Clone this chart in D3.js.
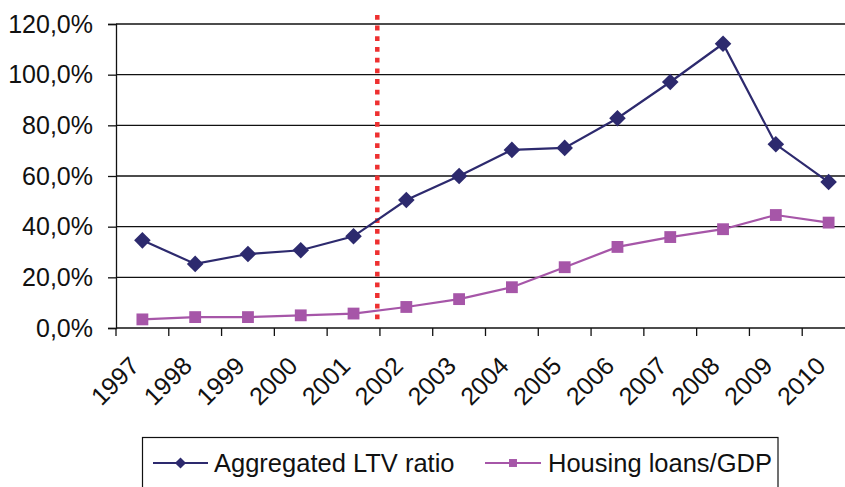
<!DOCTYPE html>
<html>
<head>
<meta charset="utf-8">
<script src="https://cdn.jsdelivr.net/npm/d3@7"></script>
<style>
  body { margin: 0; background: #fff; }
  svg { display: block; }
  text { font-family: "Liberation Sans", Arial, sans-serif; fill: #111; }
</style>
</head>
<body>
<script>
// Data
const years = ["1997","1998","1999","2000","2001","2002","2003","2004","2005","2006","2007","2008","2009","2010"];
const ltv_ratio = [34.6, 25.3, 29.2, 30.7, 36.2, 50.5, 60.0, 70.3, 71.1, 82.8, 97.1, 112.2, 72.5, 57.6];
const housing_loans_gdp = [3.4, 4.3, 4.3, 5.0, 5.7, 8.3, 11.4, 16.1, 24.0, 32.0, 35.9, 39.0, 44.6, 41.6];
const y_ticks = [0, 20, 40, 60, 80, 100, 120];
const marker_year = "2002";   // red dotted line sits just before this year

const width = 845, height = 487;
const margin = {left: 116, top: 24, bottom: 159};
const plot_right = 855;

const navy = "#2d2a6e";
const purple = "#a656a8";
const red = "#ee3030";

const svg = d3.select("body").append("svg")
  .attr("width", width)
  .attr("height", height);

// Scales
const x = d3.scaleBand()
  .domain(years)
  .range([margin.left, plot_right]);

const y = d3.scaleLinear()
  .domain([0, 120])
  .range([height - margin.bottom, margin.top]);

const fmt = v => d3.format(".1f")(v).replace(".", ",") + "%";
const cx = d => x(d) + x.bandwidth() / 2;

// Grid lines
svg.append("g")
  .selectAll("line")
  .data(y_ticks.filter(d => d > 0))
  .enter().append("line")
    .attr("x1", margin.left)
    .attr("x2", plot_right)
    .attr("y1", d => y(d))
    .attr("y2", d => y(d))
    .attr("stroke", "#111")
    .attr("stroke-width", 1.3);

// Y axis
const yAxis = svg.append("g")
  .attr("transform", `translate(${margin.left},0)`)
  .call(d3.axisLeft(y).tickValues(y_ticks).tickFormat(fmt).tickSize(8).tickPadding(15));
yAxis.select(".domain").attr("stroke", "#111").attr("stroke-width", 1.3);
yAxis.selectAll(".tick line").attr("stroke", "#111").attr("stroke-width", 1.3);
yAxis.selectAll("text")
  .style("font-size", "25px")
  .style("font-family", "Liberation Sans, Arial, sans-serif")
  .attr("fill", "#111");

// X axis: ticks on band boundaries
const xAxis = svg.append("g").attr("transform", `translate(0,${y(0)})`);
xAxis.append("line")
  .attr("x1", margin.left).attr("x2", plot_right)
  .attr("stroke", "#111").attr("stroke-width", 1.3);
xAxis.selectAll("line.tk")
  .data(years.concat(["end"]))
  .enter().append("line")
    .attr("class", "tk")
    .attr("x1", d => d === "end" ? plot_right : x(d))
    .attr("x2", d => d === "end" ? plot_right : x(d))
    .attr("y1", 0).attr("y2", 8)
    .attr("stroke", "#111").attr("stroke-width", 1.3);
xAxis.selectAll("text")
  .data(years)
  .enter().append("text")
    .attr("transform", d => `translate(${cx(d) - 14},${27}) rotate(-45)`)
    .attr("text-anchor", "end")
    .attr("dy", "0.7em")
    .style("font-size", "25px")
    .text(d => d);

// Red dotted marker line
const marker_x = x(marker_year) - x.bandwidth() * 0.05;
svg.append("line")
  .attr("x1", marker_x).attr("x2", marker_x)
  .attr("y1", y(123.6)).attr("y2", y(3.5))
  .attr("stroke", red)
  .attr("stroke-width", 4.5)
  .attr("stroke-dasharray", "4.8 5.9");

// Series
const series = [
  {name: "Aggregated LTV ratio", values: ltv_ratio, color: navy, symbol: d3.symbolDiamond2, size: 175},
  {name: "Housing loans/GDP", values: housing_loans_gdp, color: purple, symbol: d3.symbolSquare, size: 140}
];

const line = d3.line()
  .x((d, i) => cx(years[i]))
  .y(d => y(d));

series.forEach(s => {
  svg.append("path")
    .attr("d", line(s.values))
    .attr("fill", "none")
    .attr("stroke", s.color)
    .attr("stroke-width", 2.2);

  svg.append("g")
    .selectAll("path")
    .data(s.values)
    .enter().append("path")
      .attr("transform", (d, i) => `translate(${cx(years[i])},${y(d)})`)
      .attr("d", d3.symbol().type(s.symbol).size(s.size))
      .attr("fill", s.color);
});

// Legend
const legend = svg.append("g");
legend.append("rect")
  .attr("x", 142.5).attr("y", 437.5)
  .attr("width", 635.5).attr("height", 60)
  .attr("fill", "none")
  .attr("stroke", "#111")
  .attr("stroke-width", 1.2);

const legend_items = [
  {x0: 153, x1: 208, tx: 214},
  {x0: 485, x1: 541, tx: 548}
];
series.forEach((s, i) => {
  const li = legend_items[i];
  const ly = 463;
  legend.append("line")
    .attr("x1", li.x0).attr("x2", li.x1)
    .attr("y1", ly).attr("y2", ly)
    .attr("stroke", s.color).attr("stroke-width", 2);
  legend.append("path")
    .attr("transform", `translate(${(li.x0 + li.x1) / 2},${ly})`)
    .attr("d", d3.symbol().type(s.symbol).size(s.size * 0.45))
    .attr("fill", s.color);
  legend.append("text")
    .attr("x", li.tx).attr("y", 472)
    .style("font-size", "25.5px")
    .text(s.name);
});
</script>
</body>
</html>
